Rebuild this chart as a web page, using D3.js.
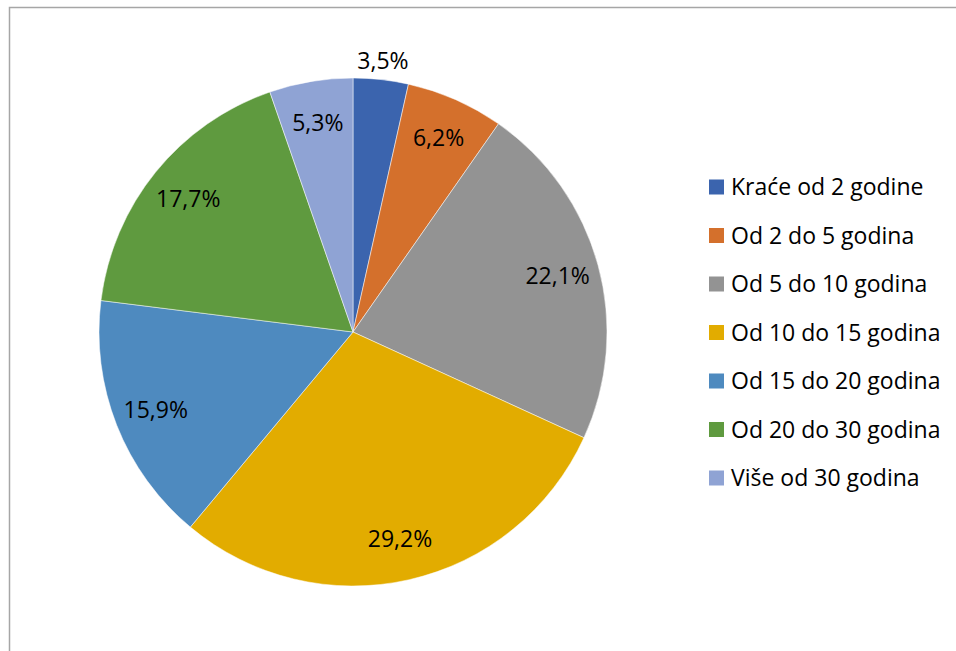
<!DOCTYPE html>
<meta charset="utf-8">
<style>
    body {
        margin: 0;
        background: #fff;
        font-family: "Open Sans", Lato, sans-serif;
    }
</style>

<body>
    <script src="https://cdn.jsdelivr.net/npm/d3@7"></script>
    <script>

        var categories = ["Kraće od 2 godine", "Od 2 do 5 godina", "Od 5 do 10 godina", "Od 10 do 15 godina",
            "Od 15 do 20 godina", "Od 20 do 30 godina", "Više od 30 godina"];
        var values = [3.5, 6.2, 22.1, 29.2, 15.9, 17.7, 5.3];
        var labels = ["3,5%", "6,2%", "22,1%", "29,2%", "15,9%", "17,7%", "5,3%"];
        var colors = ["#3b64ae", "#d4702c", "#939393", "#e2ac00", "#4e8abf", "#5f9a3f", "#8fa3d4"];

        var width = 956, height = 651,
            cx = 353, cy = 332, radius = 254;

        var svg = d3.select("body").append("svg")
            .attr("width", width)
            .attr("height", height);

        // chart frame (runs off the right/bottom edge)
        svg.append("rect")
            .attr("x", 9.5)
            .attr("y", 7.5)
            .attr("width", 1000)
            .attr("height", 700)
            .attr("fill", "none")
            .attr("stroke", "#a6a6a6")
            .attr("stroke-width", 1.5);

        var color = d3.scaleOrdinal().domain(categories).range(colors);

        var pie = d3.pie().sort(null).value(function (d) { return d.value; });
        var arc = d3.arc().innerRadius(0).outerRadius(radius);

        var data = categories.map(function (c, i) {
            return { name: c, value: values[i], label: labels[i] };
        });

        var g = svg.append("g")
            .attr("transform", "translate(" + cx + "," + cy + ")");

        var slices = pie(data);

        g.selectAll("path")
            .data(slices)
            .enter()
            .append("path")
            .attr("d", arc)
            .attr("fill", function (d) { return color(d.data.name); })
            .attr("stroke", "#fff")
            .attr("stroke-width", 0.5);

        // small slices get their label outside the pie
        g.selectAll("text")
            .data(slices)
            .enter()
            .append("text")
            .attr("transform", function (d) {
                var r = d.data.value < 4 ? radius * 1.075 : radius * 0.835;
                var a = (d.startAngle + d.endAngle) / 2;
                return "translate(" + (Math.sin(a) * r) + "," + (-Math.cos(a) * r) + ")";
            })
            .attr("text-anchor", "middle")
            .attr("dy", "0.35em")
            .attr("font-size", "23px")
            .attr("fill", "#000")
            .text(function (d) { return d.data.label; });

        var legend = svg.append("g")
            .attr("transform", "translate(709,187)");

        var rows = legend.selectAll("g")
            .data(categories)
            .enter()
            .append("g")
            .attr("transform", function (d, i) { return "translate(0," + (i * 48.5) + ")"; });

        rows.append("rect")
            .attr("x", 0)
            .attr("y", -7.5)
            .attr("width", 15)
            .attr("height", 15)
            .attr("fill", function (d) { return color(d); });

        rows.append("text")
            .attr("x", 22)
            .attr("dy", "0.35em")
            .attr("font-size", "23px")
            .attr("fill", "#000")
            .text(function (d) { return d; });

    </script>
</body>
